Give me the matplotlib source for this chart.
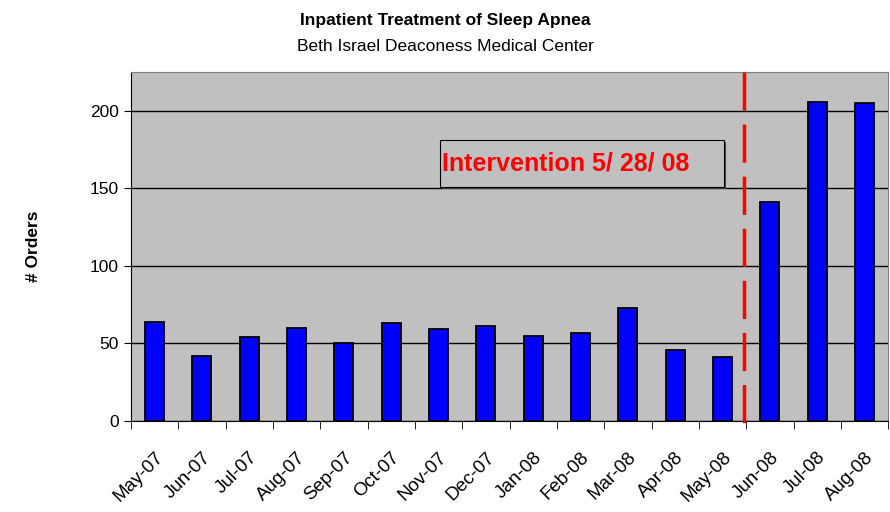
import numpy as np
import matplotlib.pyplot as plt
from matplotlib.patches import Rectangle

months = ["May-07", "Jun-07", "Jul-07", "Aug-07", "Sep-07", "Oct-07", "Nov-07", "Dec-07",
          "Jan-08", "Feb-08", "Mar-08", "Apr-08", "May-08", "Jun-08", "Jul-08", "Aug-08"]
orders = [64, 42, 54, 60, 50, 63, 59, 61, 55, 57, 73, 46, 41, 141, 206, 205]
intervention_x = 12.45
yticks = [0, 50, 100, 150, 200]

plt.rcParams['font.family'] = ['Liberation Sans', 'DejaVu Sans']

fig = plt.figure(figsize=(8.9, 5.12), dpi=100)
ax = fig.add_axes([0.147, 0.178, 0.851, 0.681])
ax.set_facecolor('#c0c0c0')

x = np.arange(len(months))
ax.bar(x, orders, width=0.4, color='#0000ff', edgecolor='black', linewidth=1.3, zorder=3)

ax.set_xlim(-0.5, len(months) - 0.5)
ax.set_ylim(0, 225)
ax.set_yticks(yticks)
ax.yaxis.grid(True, color='black', linewidth=1, zorder=1)
ax.set_axisbelow(True)

ax.set_xticks(x)
ax.set_xticklabels(months, rotation=45, ha='right', rotation_mode='anchor', fontsize=13.5)
ax.set_xticks(np.arange(-0.5, len(months) + 0.5), minor=True)
ax.tick_params(axis='x', which='major', length=0, pad=20)
ax.tick_params(axis='x', which='minor', length=6, color='black', direction='out')
ax.tick_params(axis='y', labelsize=12.5, length=5, direction='out')

for s in ['top', 'right']:
    ax.spines[s].set_color('#808080')
for s in ['left', 'bottom']:
    ax.spines[s].set_color('black')

# dashed intervention line, drawn top-down so the dash pattern starts at the top
ax.plot([intervention_x, intervention_x], [225, -6], color='#ff0000', linestyle=(0, (11, 4)),
        linewidth=2.5, zorder=4, clip_on=False)

# label box with a little shadow on the bottom/right edge
bx0, bx1, by0, by1 = 6.03, 12.04, 151, 181
ax.add_patch(Rectangle((bx0 + 0.04, by0 - 1.3), bx1 - bx0, by1 - by0, facecolor='#404040',
                       edgecolor='none', zorder=4))
ax.add_patch(Rectangle((bx0, by0), bx1 - bx0, by1 - by0, facecolor='#c0c0c0',
                       edgecolor='black', linewidth=0.8, zorder=5))
ax.text(bx0 + 0.05, (by0 + by1) / 2, "Intervention 5/ 28/ 08", color='#ff0000', fontsize=18,
        fontweight='bold', va='center', ha='left', zorder=6)

ax.set_ylabel("# Orders", fontsize=12.5, fontweight='bold', labelpad=35)

fig.text(0.5, 0.96, "Inpatient Treatment of Sleep Apnea", ha='center', va='center',
         fontsize=12.5, fontweight='bold')
fig.text(0.5, 0.909, "Beth Israel Deaconess Medical Center", ha='center', va='center',
         fontsize=12.5)

fig.savefig("out.png", dpi=100)
